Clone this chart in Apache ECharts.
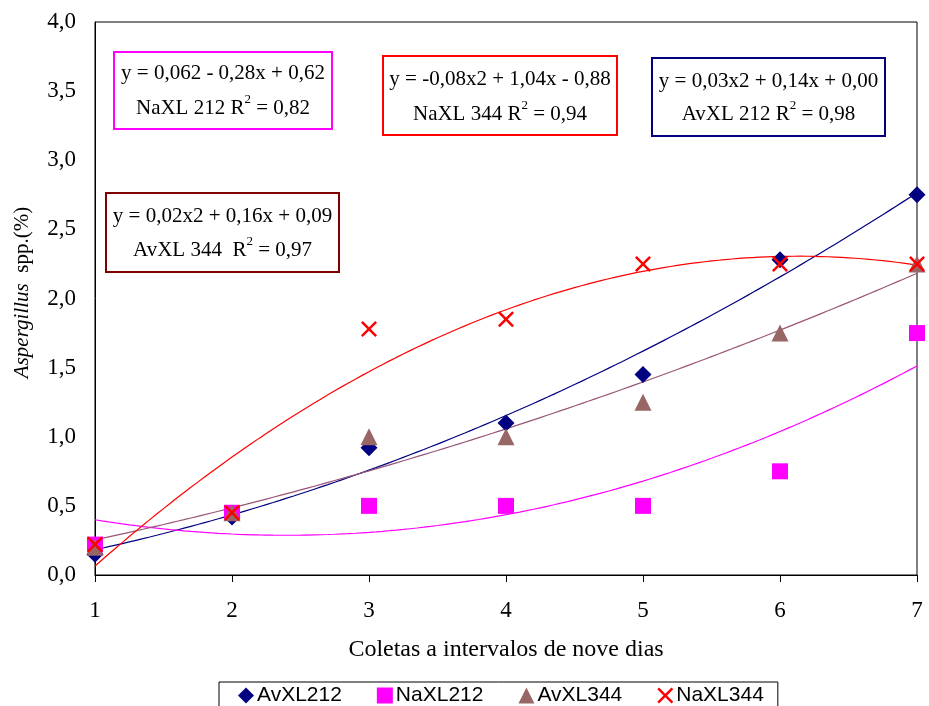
<!DOCTYPE html>
<html>
<head>
<meta charset="utf-8">
<script src="https://cdn.jsdelivr.net/npm/echarts@6/dist/echarts.min.js"></script>
<style>
	html, body { margin: 0; padding: 0; background: #fff; }
	#chart { width: 929px; height: 706px; }
</style>
</head>
<body>
<div id="chart"></div>
<script>
// coletas (x) e valores
const coletas = [1, 2, 3, 4, 5, 6, 7]
const avXL212 = [0.15, 0.42, 0.92, 1.10, 1.45, 2.28, 2.75]
const naXL212 = [0.22, 0.45, 0.50, 0.50, 0.50, 0.75, 1.75]
const avXL344 = [0.20, 0.45, 1.00, 1.00, 1.25, 1.75, 2.25]
const naXL344 = [0.22, 0.45, 1.78, 1.85, 2.25, 2.25, 2.25]
const seriesNames = ['AvXL212', 'NaXL212', 'AvXL344', 'NaXL344']

// textos das caixas de equação
const eqLine1 = ['y = 0,062 - 0,28x + 0,62', 'y = 0,02x2 + 0,16x + 0,09', 'y = -0,08x2 + 1,04x - 0,88', 'y = 0,03x2 + 0,14x + 0,00']
const eqLine2 = [['NaXL 212 R', ' = 0,82'], ['AvXL 344  R', ' = 0,97'], ['NaXL 344 R', ' = 0,94'], ['AvXL 212 R', ' = 0,98']]

const serif = 'Liberation Serif'
const sans = 'Liberation Sans'

// ajuste polinomial de 2º grau (linha de tendência, como no Excel)
function polyFit2(xs, ys) {
	let n = xs.length, sx = 0, sx2 = 0, sx3 = 0, sx4 = 0, sy = 0, sxy = 0, sx2y = 0
	for (let i = 0; i < n; i++) {
		let x = xs[i], y = ys[i]
		sx += x; sx2 += x * x; sx3 += x * x * x; sx4 += x * x * x * x
		sy += y; sxy += x * y; sx2y += x * x * y
	}
	// resolve sistema 3x3 (Cramer)
	let m = [[n, sx, sx2], [sx, sx2, sx3], [sx2, sx3, sx4]]
	let r = [sy, sxy, sx2y]
	let det = a => a[0][0] * (a[1][1] * a[2][2] - a[1][2] * a[2][1]) - a[0][1] * (a[1][0] * a[2][2] - a[1][2] * a[2][0]) + a[0][2] * (a[1][0] * a[2][1] - a[1][1] * a[2][0])
	let d = det(m)
	let coef = [0, 1, 2].map(k => {
		let mk = m.map((row, i) => row.map((v, j) => (j === k ? r[i] : v)))
		return det(mk) / d
	})
	return coef // c0 + c1 x + c2 x^2
}

function trendPoints(ys) {
	let c = polyFit2(coletas, ys)
	let pts = []
	for (let x = 1; x <= 7.0001; x += 0.05) {
		pts.push([x, c[0] + c[1] * x + c[2] * x * x])
	}
	return pts
}

const crossPath = 'path://M0,1.1L1.1,0L5,3.9L8.9,0L10,1.1L6.1,5L10,8.9L8.9,10L5,6.1L1.1,10L0,8.9L3.9,5Z'

const styles = [
	{ data: avXL212, symbol: 'diamond', color: '#000080', line: '#000080', size: 17 },
	{ data: naXL212, symbol: 'rect', color: '#ff00ff', line: '#ff00ff', size: 16 },
	{ data: avXL344, symbol: 'triangle', color: '#996666', line: '#995577', size: 17 },
	{ data: naXL344, symbol: crossPath, color: '#ff0000', line: '#ff0000', size: 16 }
]

let series = []
styles.forEach((s, i) => {
	series.push({
		name: 'trend' + i,
		type: 'line',
		data: trendPoints(s.data),
		showSymbol: false,
		smooth: false,
		silent: true,
		z: 1,
		lineStyle: { color: s.line, width: 1.2 }
	})
})
styles.forEach((s, i) => {
	series.push({
		name: seriesNames[i],
		type: 'scatter',
		data: coletas.map((x, k) => [x, s.data[k]]),
		symbol: s.symbol,
		symbolSize: s.size,
		z: 3,
		itemStyle: { color: s.color, opacity: 1 }
	})
})

// caixas de equação
const boxes = [
	{ x: 114, y: 52, w: 218, h: 77, color: '#ff00ff', l1: 73, l2: 106 },
	{ x: 106, y: 193, w: 233, h: 79, color: '#800000', l1: 216, l2: 248 },
	{ x: 383, y: 56, w: 234, h: 79, color: '#ff0000', l1: 79, l2: 112 },
	{ x: 652, y: 58, w: 233, h: 78, color: '#000080', l1: 81, l2: 112 }
]
let graphics = []
boxes.forEach((b, i) => {
	graphics.push({
		type: 'rect',
		shape: { x: b.x, y: b.y, width: b.w, height: b.h },
		style: { fill: '#fff', stroke: b.color, lineWidth: 2 },
		z: 10
	})
	graphics.push({
		type: 'text',
		x: b.x + b.w / 2,
		y: b.l1,
		z: 11,
		style: {
			text: eqLine1[i],
			font: '21px "' + serif + '"',
			fill: '#000',
			align: 'center',
			verticalAlign: 'middle'
		}
	})
	graphics.push({
		type: 'text',
		x: b.x + b.w / 2,
		y: b.l2,
		z: 11,
		style: {
			text: '{a|' + eqLine2[i][0] + '}{s|2}{a|' + eqLine2[i][1] + '}',
			align: 'center',
			verticalAlign: 'middle',
			rich: {
				a: { fontFamily: serif, fontSize: 21, lineHeight: 25, color: '#000', verticalAlign: 'bottom' },
				s: { fontFamily: serif, fontSize: 13, lineHeight: 25, color: '#000', verticalAlign: 'top' }
			}
		}
	})
})

const chart = echarts.init(document.getElementById('chart'))
chart.setOption({
	animation: false,
	backgroundColor: '#fff',
	grid: {
		left: 95,
		right: 12,
		top: 22,
		bottom: 131,
		show: true,
		borderColor: '#000',
		borderWidth: 1
	},
	xAxis: {
		type: 'value',
		min: 1,
		max: 7,
		interval: 1,
		name: 'Coletas a intervalos de nove dias',
		nameLocation: 'middle',
		nameGap: 63,
		nameTextStyle: { fontFamily: serif, fontSize: 24, color: '#000' },
		axisLine: { lineStyle: { color: '#000', width: 1 } },
		axisTick: { show: true, inside: false, length: 7, lineStyle: { color: '#000' } },
		axisLabel: { fontFamily: serif, fontSize: 23, color: '#000', margin: 24 },
		splitLine: { show: false }
	},
	yAxis: {
		type: 'value',
		min: 0,
		max: 4,
		interval: 0.5,
		name: '{i|Aspergillus}{n|  spp.(%)}',
		nameLocation: 'middle',
		nameGap: 62,
		nameRotate: 90,
		nameTextStyle: {
			padding: [0, 0, 0, 12],
			rich: {
				i: { fontFamily: serif, fontSize: 21, fontStyle: 'italic', color: '#000' },
				n: { fontFamily: serif, fontSize: 21, color: '#000' }
			}
		},
		axisLine: { show: true, lineStyle: { color: '#000', width: 1 } },
		axisTick: { show: false },
		axisLabel: {
			fontFamily: serif,
			fontSize: 23,
			color: '#000',
			margin: 19,
			formatter: v => v.toFixed(1).replace('.', ',')
		},
		splitLine: { show: false }
	},
	legend: {
		data: seriesNames,
		left: 219,
		top: 682,
		orient: 'horizontal',
		backgroundColor: '#fff',
		borderColor: '#000',
		borderWidth: 1,
		padding: [3, 14, 6, 19],
		itemWidth: 16,
		itemHeight: 16,
		itemGap: 35,
		textStyle: { fontFamily: sans, fontSize: 21, color: '#000', padding: [0, 0, 0, -2] }
	},
	graphic: graphics,
	series: series
})
</script>
</body>
</html>
